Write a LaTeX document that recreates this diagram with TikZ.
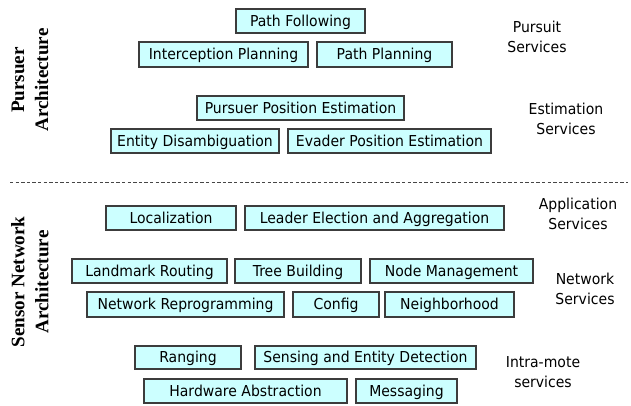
\documentclass[tikz,border=0pt]{standalone}
\usepackage{fontspec}
\setmainfont{DejaVu Sans}[FakeStretch=0.93]
\newfontfamily\labelserif{Liberation Serif}
\definecolor{boxfill}{RGB}{204,255,255}
\definecolor{boxline}{RGB}{60,60,60}
\definecolor{dashline}{RGB}{70,70,70}
\tikzset{
  svcbox/.style={draw=boxline, fill=boxfill, line width=0.8pt, inner sep=0pt,
    text height=8.2pt, text depth=0pt,
    font=\fontsize{11.3}{13}\selectfont},
  layerlabel/.style={align=center, font=\fontsize{11.3}{15}\selectfont},
  archlabel/.style={align=center, rotate=90, font=\labelserif\bfseries\fontsize{14.3}{18}\selectfont}
}
\newcommand\svc[6]{\node[svcbox, minimum width=#4*0.75pt, minimum height=#5*0.75pt] (#1) at (#2,#3) {#6};}
\begin{document}
\begin{tikzpicture}[x=0.75pt,y=-0.75pt]
\useasboundingbox (0,0) rectangle (631,405);
% Pursuer architecture
\svc{pf}{300.5}{21}{129}{24}{Path Following}
\svc{ip}{223.5}{54.5}{169}{25}{Interception Planning}
\svc{pp}{384.5}{54.5}{135}{25}{Path Planning}
\svc{ppe}{300.5}{108}{207}{24}{Pursuer Position Estimation}
\svc{ed}{195}{141}{168}{24}{Entity Disambiguation}
\svc{epe}{389.5}{141}{203}{24}{Evader Position Estimation}
% separator
\coordinate (sepL) at (10,182);
\coordinate (sepR) at (628,182);
\draw[dashline, line width=0.75pt, dash pattern=on 2.6pt off 1.6pt] (sepL) -- (sepR);
% Sensor network architecture
\svc{loc}{171}{218}{130}{24}{Localization}
\svc{lea}{374.5}{218}{259}{24}{Leader Election and Aggregation}
\svc{lr}{149.5}{271}{155}{24}{Landmark Routing}
\svc{tb}{298}{271}{126}{24}{Tree Building}
\svc{nm}{451.5}{271}{163}{24}{Node Management}
\svc{nr}{185.5}{304.5}{197}{25}{Network Reprogramming}
\svc{cfg}{336}{304.5}{86}{25}{Config}
\svc{nb}{449.5}{304.5}{129}{25}{Neighborhood}
\svc{rg}{188}{357.5}{106}{23}{Ranging}
\svc{sed}{365.5}{357.5}{221}{23}{Sensing and Entity Detection}
\svc{ha}{245.5}{391}{203}{24}{Hardware Abstraction}
\svc{msg}{406.5}{391}{101}{24}{Messaging}
% layer labels
\node[layerlabel] (lp) at (537,36.5) {Pursuit\\Services};
\node[layerlabel] (le) at (566,118.5) {Estimation\\Services};
\node[layerlabel] (la) at (578,214) {Application\\Services};
\node[layerlabel] (ln) at (585,289) {Network\\Services};
\node[layerlabel] (li) at (543,372.5) {Intra-mote\\services};
% architecture labels
\node[archlabel] (pa) at (30,80) {Pursuer\\Architecture};
\node[archlabel] (sa) at (30,282) {Sensor Network\\Architecture};
\end{tikzpicture}
\end{document}
